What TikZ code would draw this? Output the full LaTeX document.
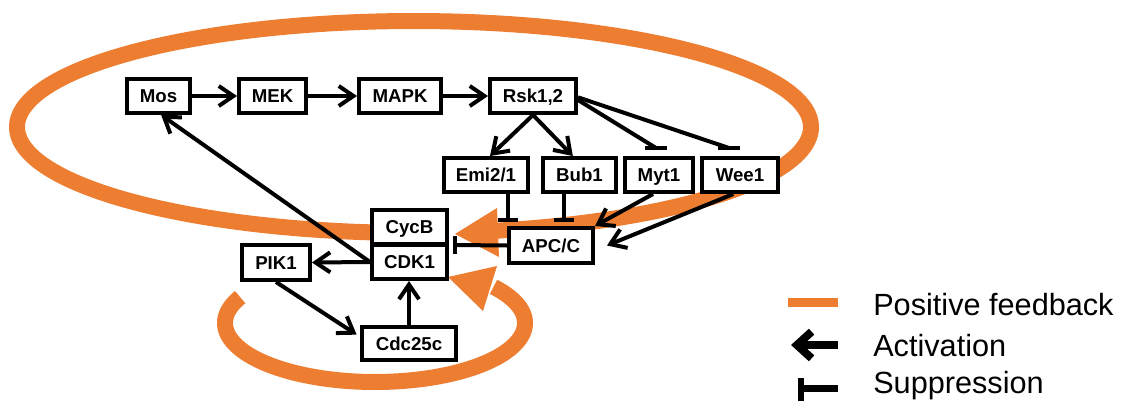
\documentclass[tikz,border=0pt]{standalone}
\usepackage{fontspec}
\setmainfont{Liberation Sans}
\usetikzlibrary{arrows.meta,calc}
\definecolor{fb}{HTML}{ED7D31}
\begin{document}
\begin{tikzpicture}[x=0.75pt,y=-0.75pt,
  box/.style={draw, line width=3pt, fill=white, inner sep=0pt, text height=10pt, text depth=0pt,
    font=\bfseries\fontsize{14}{16}\selectfont, minimum height=25.5pt},
  act/.style={line width=3pt, -{Straight Barb[length=11pt,width=15pt]}},
  sup/.style={line width=3pt},
  fbline/.style={draw=fb, line width=12pt},
  legtext/.style={anchor=base west, inner sep=0pt, font=\fontsize{23}{23}\selectfont},
]
\useasboundingbox (0,0) rectangle (1128,400);

% positive feedback loops
\draw[fbline] plot[domain=95.6:437.9, samples=200, variable=\t] ({414+397*cos(\t)},{127+106*sin(\t)});
\fill[fb] (455,234) -- (497,208) -- (499,257) -- cycle;
\draw[fbline] plot[domain=-37.8:206, samples=150, variable=\t] ({375+150*cos(\t)},{323+59*sin(\t)});
\fill[fb] (448,277) -- (497,266) -- (483,311) -- cycle;

% nodes
\node[box, minimum width=47.25pt] (mos) at (158.5,96) {Mos};
\node[box, minimum width=50.25pt] (mek) at (272.5,96) {MEK};
\node[box, minimum width=61.5pt] (mapk) at (400,96) {MAPK};
\node[box, minimum width=64.5pt] (rsk) at (533,96) {Rsk1,2};
\node[box, minimum width=63pt] (emi) at (486,175) {Emi2/1};
\node[box, minimum width=54.75pt] (bub) at (579.5,175) {Bub1};
\node[box, minimum width=51pt] (myt) at (659,175) {Myt1};
\node[box, minimum width=57pt] (wee) at (740,175) {Wee1};
\node[box, minimum width=63pt, minimum height=26.25pt] (apc) at (551,245.5) {APC/C};
\node[box, minimum width=56.25pt] (cycb) at (409.5,227) {CycB};
\node[box, minimum width=56.25pt] (cdk) at (409.5,262) {CDK1};
\node[box, minimum width=51pt, minimum height=26.25pt] (pik) at (276,262.5) {PIK1};
\node[box, minimum width=70.5pt, minimum height=24.75pt] (cdc) at (409,343.5) {Cdc25c};

% activations
\draw[act] (mos) -- (mek);
\draw[act] (mek) -- (mapk);
\draw[act] (mapk) -- (rsk);
\draw[act] (rsk.south) -- ([xshift=3pt]emi.north);
\draw[act] (rsk.south) -- ([xshift=-5pt]bub.north);
\draw[act] ([xshift=-4.5pt]myt.south) -- (apc.north east);
\draw[act] ([xshift=-5pt]wee.south) -- ([xshift=9pt]apc.east);
\draw[act] (cdk.west) -- ([xshift=2pt]mos.south);
\draw[act] (cdk.west) -- (pik.east);
\draw[act, shorten >=3pt] (pik.south) -- ([yshift=5pt]cdc.west);
\draw[act] (cdc.north) -- (cdc.north |- cdk.south);

% suppressions
\coordinate (mytT) at (656,148);
\coordinate (weeT) at (729,148);
\coordinate (emiT) at (508,220);
\coordinate (bubT) at (564,220);
\coordinate (apcT) at (455,245);
\draw[sup] ([yshift=-3pt]rsk.east) -- (mytT);
\draw[sup] ($(mytT)+(-11,0)$) -- ($(mytT)+(11,0)$);
\draw[sup] ([yshift=-1pt]rsk.east) -- (weeT);
\draw[sup] ($(weeT)+(-11,0)$) -- ($(weeT)+(11,0)$);
\draw[sup] (emiT |- emi.south) -- (emiT);
\draw[sup] ($(emiT)+(-10,0)$) -- ($(emiT)+(10,0)$);
\draw[sup] (bubT |- bub.south) -- (bubT);
\draw[sup] ($(bubT)+(-10,0)$) -- ($(bubT)+(10,0)$);
\draw[sup] (apc.west) -- (apcT);
\draw[sup] ($(apcT)+(0,-9)$) -- ($(apcT)+(0,9)$);

% legend
\fill[fb] (788,298) rectangle (838,307);
\coordinate (la1) at (838,345);
\coordinate (la2) at (791,345);
\draw[line width=6pt, -{Straight Barb[length=11pt,width=20pt]}] (la1) -- (la2);
\coordinate (ls1) at (801,388.5);
\coordinate (ls2) at (838,388.5);
\draw[line width=5pt] (ls1) -- (ls2);
\draw[line width=4.5pt] ($(ls1)+(0,-11)$) -- ($(ls1)+(0,14)$);
\node[legtext] (l1) at (873,315) {Positive feedback};
\node[legtext] (l2) at (873,356) {Activation};
\node[legtext] (l3) at (873,393) {Suppression};
\end{tikzpicture}
\end{document}
